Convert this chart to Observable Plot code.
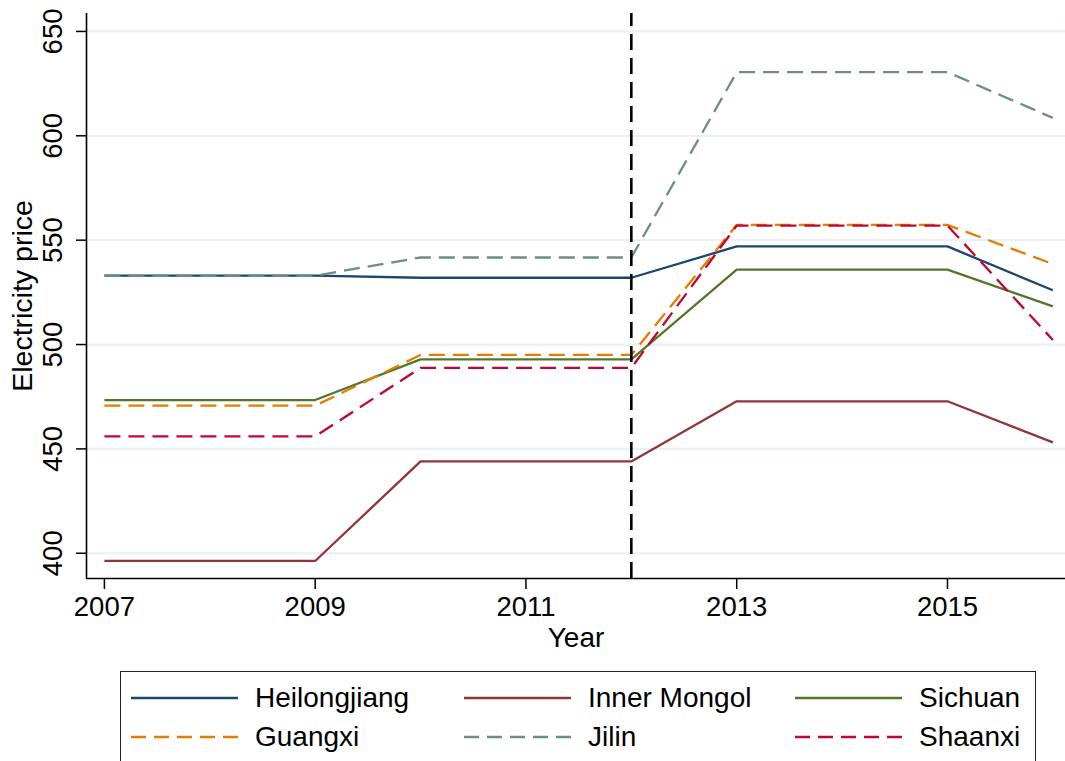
<!DOCTYPE html>
<html>
<head>
<meta charset="utf-8">
<script src="https://cdn.jsdelivr.net/npm/d3@7"></script>
<script src="https://cdn.jsdelivr.net/npm/@observablehq/plot@0.6"></script>
<style>
  html, body { margin: 0; padding: 0; background: #fff; width: 1065px; height: 761px; overflow: hidden; }
  #wrap { position: relative; width: 1065px; height: 761px; font-family: "Liberation Sans", Arial, Helvetica, sans-serif; }
  #legend { position: absolute; left: 120px; top: 671px; width: 916px; height: 120px; border: 1.5px solid #222; box-sizing: border-box; }
  .item { position: absolute; height: 36px; display: flex; align-items: center; font-size: 28px; color: #000; white-space: nowrap; }
  .item svg { display: block; margin-right: 17px; }
</style>
</head>
<body>
<div id="wrap"><div id="chart"></div><div id="legend"></div></div>
<script>
// ---- data ----
const years = [2007, 2008, 2009, 2010, 2011, 2012, 2013, 2014, 2015, 2016];
const provinces = ["Heilongjiang", "Inner Mongol", "Sichuan", "Guangxi", "Jilin", "Shaanxi"];
const heilongjiang = [533, 533, 533, 532, 532, 532, 547, 547, 547, 526];
const innerMongol  = [396.3, 396.3, 396.3, 444, 444, 444, 472.8, 472.8, 472.8, 453.1];
const sichuan      = [473.4, 473.4, 473.4, 492.9, 492.9, 492.9, 535.9, 535.9, 535.9, 518.3];
const guangxi      = [470.7, 470.7, 470.7, 495, 495, 495, 557.3, 557.3, 557.3, 538.6];
const jilin        = [533, 533, 533, 541.7, 541.7, 541.7, 630.5, 630.5, 630.5, 608.6];
const shaanxi      = [456, 456, 456, 488.8, 488.8, 488.8, 557, 557, 557, 502.2];
const seriesValues = [heilongjiang, innerMongol, sichuan, guangxi, jilin, shaanxi];
const colors  = ["#1a476f", "#90353b", "#55752f", "#e37e00", "#6e8e84", "#c10534"];
const dashes  = [null, null, null, "16,8", "16,8", "16,8"];
const yTicks = [400, 450, 500, 550, 600, 650];
const xTicks = [2007, 2009, 2011, 2013, 2015];
const policyYear = 2012;
const xDomain = [2006.83, 2016.12];
const yDomain = [387.9, 658.6];

const data = provinces.flatMap((p, i) => years.map((y, j) => ({province: p, year: y, price: seriesValues[i][j]})));

const fontFamily = '"Liberation Sans", Arial, Helvetica, sans-serif';

const chart = Plot.plot({
  width: 1065,
  height: 662,
  marginLeft: 86,
  marginRight: 0,
  marginTop: 13,
  marginBottom: 84,
  style: {fontFamily, fontSize: "27px", background: "white", color: "black", overflow: "visible"},
  x: {domain: xDomain, axis: null},
  y: {domain: yDomain, axis: null},
  marks: [
    Plot.gridY(yTicks, {stroke: "#e9f1f3", strokeOpacity: 1, strokeWidth: 2.2}),
    ...provinces.map((p, i) => Plot.line(data.filter(d => d.province === p), {
      x: "year", y: "price", stroke: colors[i], strokeWidth: 2.3,
      strokeDasharray: dashes[i] ?? undefined, strokeLinejoin: "miter", strokeLinecap: "butt"
    })),
    Plot.ruleX([policyYear], {y1: yDomain[0], y2: yDomain[1], stroke: "black", strokeWidth: 2.6, strokeDasharray: "16,8"}),
    // axis lines
    Plot.ruleY([yDomain[0]], {stroke: "black", strokeWidth: 1.6}),
    Plot.ruleX([xDomain[0]], {stroke: "black", strokeWidth: 1.6}),
    // ticks
    Plot.axisY(yTicks, {anchor: "left", tickSize: 10, tickFormat: () => "", label: null, stroke: "black", strokeWidth: 1.5}),
    Plot.axisX(xTicks, {anchor: "bottom", tickSize: 11, tickFormat: () => "", label: null, stroke: "black", strokeWidth: 1.5}),
    // tick labels
    Plot.text(yTicks, {y: d => d, text: d => String(d), frameAnchor: "left", dx: -33, rotate: -90, textAnchor: "middle", lineAnchor: "middle", fontSize: 27.5, fill: "black"}),
    Plot.text(xTicks, {x: d => d, text: d => String(d), frameAnchor: "bottom", dy: 29, textAnchor: "middle", lineAnchor: "middle", fontSize: 27.5, fill: "black"}),
    // axis titles
    Plot.text(["Electricity price"], {frameAnchor: "left", dx: -64, rotate: -90, textAnchor: "middle", lineAnchor: "middle", fontSize: 28.5, fill: "black"}),
    Plot.text(["Year"], {frameAnchor: "bottom", dy: 60, textAnchor: "middle", lineAnchor: "middle", fontSize: 28, fill: "black"})
  ]
});
document.getElementById("chart").appendChild(chart);

// ---- legend ----
const legend = document.getElementById("legend");
const colX = [10, 343, 674];   // swatch start (relative to legend box)
const rowY = [8, 47];
provinces.forEach((p, i) => {
  const col = i % 3, row = Math.floor(i / 3);
  const div = document.createElement("div");
  div.className = "item";
  div.style.left = colX[col] + "px";
  div.style.top = rowY[row] + "px";
  const svgNS = "http://www.w3.org/2000/svg";
  const s = document.createElementNS(svgNS, "svg");
  s.setAttribute("width", 107); s.setAttribute("height", 10);
  const ln = document.createElementNS(svgNS, "line");
  ln.setAttribute("x1", 0); ln.setAttribute("x2", 107); ln.setAttribute("y1", 5); ln.setAttribute("y2", 5);
  ln.setAttribute("stroke", colors[i]); ln.setAttribute("stroke-width", 2.5);
  if (dashes[i]) ln.setAttribute("stroke-dasharray", "15,8");
  s.appendChild(ln);
  div.appendChild(s);
  const t = document.createElement("span");
  t.textContent = p;
  div.appendChild(t);
  legend.appendChild(div);
});
</script>
</body>
</html>
